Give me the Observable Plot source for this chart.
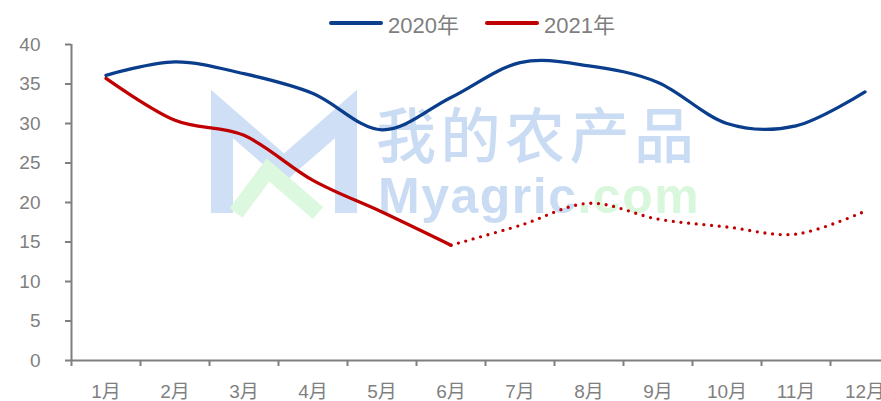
<!DOCTYPE html>
<html>
<head>
<meta charset="utf-8">
<script src="https://cdn.jsdelivr.net/npm/d3@7"></script>
<script src="https://cdn.jsdelivr.net/npm/@observablehq/plot@0.6"></script>
<style>
  html, body { margin: 0; padding: 0; background: #fff; overflow: hidden; }
  #wrap { position: relative; width: 881px; height: 401px; background: #fff;
          font-family: "Liberation Sans", "Noto Sans CJK SC", sans-serif; }
  #wm { position: absolute; left: 0; top: 0; z-index: 0; }
  #chart { position: absolute; left: 0; top: 0; z-index: 1; }
  #legend { position: absolute; left: 329px; top: 9px; height: 28px; z-index: 2;
            display: flex; align-items: center; font-size: 22px; color: #7f7f7f;
            font-family: "Liberation Sans", "Noto Sans CJK SC", sans-serif; }
  #legend .sw { width: 54px; height: 4px; border-radius: 2px; margin-right: 5px; }
  #legend .item { display: flex; align-items: center; }
  #legend .item + .item { margin-left: 26px; }
</style>
</head>
<body>
<div id="wrap">
  <svg id="wm" width="881" height="401" xmlns="http://www.w3.org/2000/svg">
    <polyline points="222,213 222,114 284,168 346,114 346,213" fill="none" stroke="#cfdff5" stroke-width="22" stroke-linejoin="miter"/>
    <polyline points="236,213 268,170 318,213" fill="none" stroke="#dcf8df" stroke-width="16"/>
    <text x="376" y="158" font-size="60" letter-spacing="4.5" fill="#cadcf3" font-family="Noto Sans CJK SC" font-weight="500">我的农产品</text>
    <text x="378" y="213" font-size="50" letter-spacing="1.5" font-weight="bold" font-family="Liberation Sans"><tspan fill="#cadcf3">Myagric</tspan><tspan fill="#d8f7dc">.com</tspan></text>
  </svg>
  <div id="chart"></div>
  <div id="legend"></div>
</div>
<script>
const months = ["1月","2月","3月","4月","5月","6月","7月","8月","9月","10月","11月","12月"];
const series = ["2020年", "2021年"];
const colors = ["#0a3e8c", "#c00000"];
const values2020 = [36.1, 37.8, 36.3, 33.8, 29.2, 33.3, 37.7, 37.3, 35.2, 30.0, 29.7, 34.0];
const values2021 = [35.7, 30.4, 28.5, 22.8, 18.8, 14.6, 17.1, 19.9, 17.9, 16.9, 16.0, 18.9];
const yTicks = [0, 5, 10, 15, 20, 25, 30, 35, 40];
const actualUntil = 6; // 2021 solid through 6月, dotted after

const idx = months.map((m, i) => i + 1);
const bounds = months.map((m, i) => i + 0.5);
const d2020 = months.map((m, i) => ({i: i + 1, v: values2020[i]}));
const d2021 = months.map((m, i) => ({i: i + 1, v: values2021[i]}));
const d2021a = d2021.filter(d => d.i <= actualUntil);
const d2021b = d2021.filter(d => d.i >= actualUntil);

const axisColor = "#7f7f7f";
const plot = Plot.plot({
  width: 881,
  height: 401,
  marginTop: 44,
  marginBottom: 41,
  marginLeft: 71,
  marginRight: 0,
  x: {type: "linear", domain: [0.5, 12.5], range: [71, 899], label: null},
  y: {domain: [0, 40], range: [360, 44], label: null},
  style: {background: "transparent", fontFamily: '"Liberation Sans", "Noto Sans CJK SC", sans-serif', fontSize: "19px", color: axisColor, overflow: "hidden"},
  marks: [
    Plot.ruleY([0], {stroke: axisColor, strokeWidth: 2}),
    Plot.ruleX([0.5], {stroke: axisColor, strokeWidth: 2}),
    Plot.axisY(yTicks, {anchor: "left", label: null, tickSize: 6, tickPadding: 25, stroke: axisColor, strokeWidth: 2, fill: axisColor, fontSize: 19, tickFormat: d => String(d)}),
    Plot.axisX(bounds, {anchor: "bottom", label: null, tickSize: 6, stroke: axisColor, strokeWidth: 2, tickFormat: () => ""}),
    Plot.axisX(idx, {anchor: "bottom", label: null, tickSize: 0, tickPadding: 24, fill: axisColor, fontSize: 19, tickFormat: i => months[i - 1]}),
    Plot.line(d2020, {x: "i", y: "v", stroke: colors[0], strokeWidth: 3.3, curve: "cardinal", tension: 0}),
    Plot.line(d2021a, {x: "i", y: "v", stroke: colors[1], strokeWidth: 3.3, curve: "cardinal", tension: 0}),
    Plot.line(d2021b, {x: "i", y: "v", stroke: colors[1], strokeWidth: 3.3, curve: "cardinal", tension: 0, strokeDasharray: "0 7.7", strokeLinecap: "round"})
  ]
});
document.getElementById("chart").appendChild(plot);

const legend = document.getElementById("legend");
series.forEach((s, k) => {
  const item = document.createElement("div");
  item.className = "item";
  const sw = document.createElement("div");
  sw.className = "sw";
  sw.style.background = colors[k];
  const t = document.createElement("span");
  t.textContent = s;
  item.appendChild(sw);
  item.appendChild(t);
  legend.appendChild(item);
});
</script>
</body>
</html>
